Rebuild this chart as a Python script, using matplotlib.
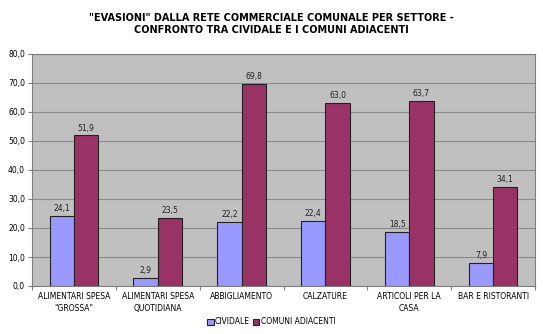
import matplotlib
matplotlib.use("Agg")
import matplotlib.pyplot as plt
import numpy as np

categories = ['ALIMENTARI SPESA\n"GROSSA"', 'ALIMENTARI SPESA\nQUOTIDIANA', 'ABBIGLIAMENTO',
              'CALZATURE', 'ARTICOLI PER LA\nCASA', 'BAR E RISTORANTI']
cividale = [24.1, 2.9, 22.2, 22.4, 18.5, 7.9]
comuni = [51.9, 23.5, 69.8, 63.0, 63.7, 34.1]
series_names = ['CIVIDALE', 'COMUNI ADIACENTI']

plt.rcParams['font.family'] = 'DejaVu Sans'
fig = plt.figure(figsize=(5.43, 3.34), dpi=100)
ax = fig.add_axes([32/543, 1 - 286/334, (535-32)/543, (286-54)/334])
ax.set_facecolor('#C0C0C0')

x = np.arange(len(categories))
w = 0.29
b1 = ax.bar(x - w/2, cividale, w, color='#9999FF', edgecolor='#222222', linewidth=0.8, zorder=3)
b2 = ax.bar(x + w/2, comuni, w, color='#993366', edgecolor='#222222', linewidth=0.8, zorder=3)
for bars, vals in ((b1, cividale), (b2, comuni)):
    for r, v in zip(bars, vals):
        ax.text(r.get_x() + r.get_width()/2, v + 1.0, f"{v:.1f}".replace('.', ','),
                ha='center', va='bottom', fontsize=5.5, color='#222222')

ax.set_xlim(-0.5, len(categories) - 0.5)
ax.set_ylim(0, 80)
ax.set_yticks(np.arange(0, 81, 10))
ax.set_yticklabels([f"{v:.1f}".replace('.', ',') for v in np.arange(0, 81, 10)], fontsize=5.5)
ax.yaxis.grid(True, color='#8a8a8a', linewidth=0.8, zorder=0)
ax.set_xticks(np.arange(-0.5, len(categories), 1))
ax.set_xticklabels([])
ax.set_xticks(x, minor=True)
ax.set_xticklabels(categories, minor=True, fontsize=5.5, linespacing=1.45)
ax.tick_params(axis='x', which='minor', length=0, pad=4)
ax.tick_params(axis='x', which='major', length=3, color='#808080')
ax.tick_params(axis='y', length=3, color='#808080', pad=2)
for s in ax.spines.values():
    s.set_color('#808080')

fig.suptitle('"EVASIONI" DALLA RETE COMMERCIALE COMUNALE PER SETTORE -\nCONFRONTO TRA CIVIDALE E I COMUNI ADIACENTI',
             fontsize=7, fontweight='bold', y=0.96, linespacing=1.25)
fig.legend([b1, b2], series_names, loc='center', bbox_to_anchor=(0.5, 1 - 322/334),
           ncol=2, fontsize=5.5, frameon=False, handlelength=0.8, handleheight=0.8,
           handletextpad=0.2, columnspacing=0.4)

fig.savefig('out.png', dpi=100)
